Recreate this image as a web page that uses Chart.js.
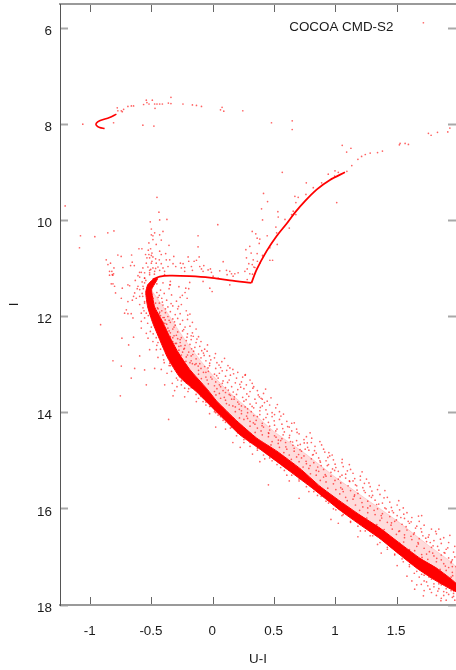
<!DOCTYPE html>
<html>
<head>
<meta charset="utf-8">
<title>COCOA CMD-S2</title>
<script src="https://cdn.jsdelivr.net/npm/chart.js@4"></script>
<style>
  body { margin: 0; background: #fff; overflow: hidden; }
  canvas { display: block; }
</style>
</head>
<body>
<canvas id="myChart" width="456" height="670"></canvas>
<script>
// axis ticks and labels
const uTicks = [-1, -0.5, 0, 0.5, 1, 1.5];
const iTicks = [6, 8, 10, 12, 14, 16, 18];
const plotLabel = 'COCOA CMD-S2';

// dense main sequence, outline [U-I, I]
const bandOutline = [
  [-.494,11.23],[-.535,11.34],[-.551,11.5],[-.535,11.8],[-.494,12.13],[-.437,12.48],[-.372,12.86],[-.274,13.26],
  [-.135,13.57],[.053,14.05],[.217,14.46],[.404,14.8],[.625,15.22],[.813,15.58],[1.034,16.03],[1.197,16.33],
  [1.36,16.62],[1.524,16.96],[1.663,17.24],[1.793,17.46],[1.98,17.72],
  [1.98,17.55],[1.826,17.24],[1.687,17.03],[1.524,16.72],[1.36,16.4],[1.197,16.13],[1.034,15.84],[.87,15.53],
  [.707,15.16],[.519,14.8],[.355,14.53],[.192,14.17],[.029,13.76],[-.053,13.5],[-.192,13.1],[-.29,12.73],
  [-.355,12.42],[-.421,12.07],[-.478,11.8],[-.502,11.44],[-.453,11.21],[-.494,11.23]
];

// lighter zone just above the band
const haloOutline = [
  [-.49,11.5],[-.38,11.9],[-.28,12.3],[-.17,12.7],[-.03,13.15],[.12,13.55],[.3,13.95],[.5,14.4],[.75,14.85],
  [1,15.35],[1.25,15.8],[1.5,16.25],[1.75,16.75],[1.98,17.2],[1.98,17.6],[1.6,17],[1.2,16.2],[.8,15.5],[.4,14.8],
  [.1,14.1],[-.2,13.2],[-.4,12.4],[-.5,11.8],[-.49,11.5]
];

// subgiant branch ridge
const subgiantRidge = [
  [-.494,11.23],[-.437,11.17],[-.355,11.15],[-.192,11.16],[-.029,11.19],[.135,11.25],[.312,11.3]
];

// giant branch ridge
const giantRidge = [
  [.312,11.3],[.353,11.03],[.435,10.64],[.516,10.33],[.598,10.07],[.666,9.84],[.748,9.6],[.843,9.36],[.952,9.16],[1.074,9]
];

// bright hook near I = 8
const hookRidge = [
  [-.886,8.09],[-.927,8.07],[-.954,8.02],[-.954,7.98],[-.927,7.93],[-.846,7.86],[-.79,7.79]
];

// single stars, upper part of the diagram
const brightStars = [
  [-1.064,8],[-.813,7.97],[-.783,7.66],[-.778,7.72],[-.75,7.72],[-.742,7.74],[-.731,7.69],[-.696,7.63],[-.668,7.62],[-.65,7.62],
  [-.568,7.59],[-.546,7.5],[-.541,7.55],[-.524,7.58],[-.497,7.5],[-.478,7.58],[-.459,7.58],[-.437,7.58],[-.415,7.58],[-.366,7.56],
  [-.345,7.44],[-.345,7.57],[-.247,7.58],[-.17,7.6],[-.137,7.61],[-.096,7.63],[.072,7.65],[.059,7.7],[.086,7.73],[.241,7.72],
  [-.475,7.67],[-.574,8.02],[-.484,8.04],[.475,7.97],[.644,7.93],[.644,8.11],[1.052,8.44],[1.123,8.5],[1.524,8.4],[1.518,8.43],
  [1.565,8.4],[1.592,8.42],[1.714,5.89],[1.755,8.19],[1.777,8.23],[1.829,8.17],[1.913,8.16],[1.93,8.08],
  [1.09,8.98],[1.13,8.86],[1.18,8.73],[1.21,8.67],[1.24,8.63],[1.28,8.6],[1.34,8.59],[1.38,8.56],[1.088,8.58],[1.02,9],[.99,9.08]
];

// stars around the giant and subgiant branch
const branchStars = [
  [.563,9],[.759,9.22],[.41,9.44],[.443,9.61],[1.007,9.63],[.394,9.76],[.037,10.09],[.402,9.99],[.527,9.82],[.53,9.93],
  [.666,9.5],[.693,9.52],[.674,9.63],[.62,10.16],[.318,10.23],[.347,10.28],[.358,10.37],[.38,10.39],[.375,10.48],[.44,10.32],
  [.511,10.14],[.522,10.5],[.298,10.54],[.266,10.61],[.309,10.68],[.271,10.78],[.358,10.69],[.402,10.73],[.462,10.83],[.484,10.83],
  [.326,10.82],[.29,10.9],[.318,10.92],[.331,10.97],[.277,11.01],[.258,11.06],[.298,11.11],[.277,11.23],[-.124,10.32],[-.124,10.55],
  [-.115,10.76],[-.156,10.85],[-.137,10.83],[-.205,10.76],[-.2,10.85],[-.268,10.89],[-.246,10.9],[-.355,10.82],[-.322,10.75],[-.328,10.9],
  [-.306,10.96],[-.26,10.99],[-.233,10.98],[-.233,11.06],[-.178,10.96],[-.17,11.04],[-.11,10.96],[-.096,11.01],[-.077,10.94],[-.083,11.06],
  [-.042,11.03],[-.023,11.01],[-.015,11.08],[.053,11.05],[.081,10.86],[.108,11.04],[.135,11.06],[.149,11.11],[.113,11.13],[.176,11.11],
  [.203,11.09],[.162,11.16],[.04,11.2],[-.001,11.16],[-.192,11.29],[-.083,11.27],[-.028,11.41],[-.009,11.48],[-.224,11.41],[-.252,11.56],
  [-.213,11.62],[.135,11.34],[-.355,11.34],[-.35,11.27],[.38,10.89],[.407,10.75],[.462,10.57],[.517,10.26],[.585,9.98],[.652,9.81],
  [.674,9.88],[.639,9.88],[.938,9.04],[.993,8.97],[.884,9.22],[.816,9.32],[.756,9.46],[.32,11.12],[.34,10.98],[.36,10.85]
];

// stars bluer than the turnoff
const blueStars = [
  [-.459,9.52],[-.443,9.83],[-1.208,9.7],[-.514,10.03],[-.437,9.99],[-.378,9.98],[-.505,10.18],[-.81,10.22],[-.86,10.26],[-1.083,10.32],
  [-.966,10.34],[-1.091,10.57],[-.41,10.23],[-.478,10.26],[-.505,10.3],[-.437,10.3],[-.492,10.32],[-.525,10.47],[-.492,10.4],[-.424,10.41],
  [-.606,10.59],[-.582,10.59],[-.511,10.59],[-.465,10.5],[-.437,10.64],[-.361,10.52],[-.778,10.72],[-.751,10.75],[-.666,10.72],[-.873,10.82],
  [-.838,10.89],[-.859,10.92],[-.737,10.98],[-.661,10.87],[-.674,10.94],[-.644,10.94],[-.81,10.99],[-.827,11.06],[-.846,11.14],[-.819,11.14],
  [-.552,10.71],[-.525,10.71],[-.505,10.73],[-.541,10.78],[-.519,10.78],[-.492,10.76],[-.424,10.71],[-.388,10.69],[-.546,10.89],[-.505,10.89],
  [-.465,10.89],[-.424,10.9],[-.383,10.82],[-.574,10.99],[-.533,10.97],[-.492,10.99],[-.451,10.97],[-.41,10.99],[-.369,10.96],[-.601,11.08],
  [-.56,11.09],[-.519,11.04],[-.478,11.06],[-.437,11.04],[-.397,11.06],[-.614,11.15],[-.56,11.2],[-.519,11.13],[-.397,11.13],[-.824,11.13],
  [-.846,11.06],[-.813,11.11],[-.818,11.32],[-.832,11.32],[-.805,11.37],[-.797,11.51],[-.742,11.41],[-.696,11.34],[-.682,11.36],[-.636,11.25],
  [-.6,11.18],[-.56,11.2],[-.587,11.08],[-.519,11.09],[-.75,11.62],[-.696,11.69],[-.66,11.66],[-.628,11.62],[-.6,11.58],[-.641,11.51],
  [-.6,11.44],[-.573,11.37],[-.56,11.3],[-.614,11.37],[-.709,11.86],[-.723,11.93],[-.696,11.94],[-.669,11.94],[-.655,12.03],[-.587,12.1],
  [-.56,12.03],[-.546,11.93],[-.573,11.82],[-.6,11.75],[-.56,11.69],[-.587,11.93],[-.919,12.17],[-.745,12.45],[-.65,12.43],[-.69,12.59],
  [-.587,12.24],[-.546,12.35],[-.513,12.31],[-.532,12.45],[-.492,12.52],[-.451,12.54],[-.6,12.82],[-.818,12.92],[-.519,12.69],[-.464,12.69],
  [-.451,12.85],[-.75,13.03],[-.641,13.08],[-.478,13.08],[-.56,13.11],[-.424,13.1],[-.355,12.97],[-.404,12.9],[-.377,13.18],[-.669,13.28],
  [-.546,13.42],[-.396,13.42],[-.334,13.39],[-.296,13.46],[-.26,13.42],[-.233,13.49],[-.315,13.54],[-.206,13.56],[-.758,13.65],[-.328,13.65],
  [-.233,13.67],[-.138,13.77],[-.083,13.77],[-.029,13.87],[.012,13.94],[.039,14.05],[-.364,14.14],[-.51,11.02],[-.47,11],[-.55,11.25],
  [-.5,10.85],[-.47,10.8],[-.44,10.82],[-.5,10.68],[-.53,10.62],[-.48,11.12],[-.58,11.28],[-.62,11.42],[-.65,11.58],[-.58,11.52]
];

// redder cloud above the band, upper half
const cloudUpper = [
  [-.46,11.32],[-.41,11.3],[-.35,11.34],[-.28,11.38],[-.2,11.42],[-.23,11.5],[-.36,11.42],[-.43,11.45],[-.46,11.5],[-.4,11.52],
  [-.34,11.55],[-.27,11.6],[-.45,11.6],[-.42,11.62],[-.38,11.66],[-.3,11.68],[-.26,11.75],[-.44,11.72],[-.41,11.76],[-.37,11.8],
  [-.33,11.78],[-.29,11.84],[-.22,11.88],[-.19,11.95],[-.45,11.84],[-.42,11.88],[-.39,11.92],[-.35,11.9],[-.31,11.96],[-.27,11.94],
  [-.43,11.98],[-.4,12.02],[-.37,12],[-.33,12.05],[-.29,12.04],[-.25,12.08],[-.21,12.06],[-.17,12.12],[-.41,12.12],[-.38,12.16],
  [-.35,12.12],[-.31,12.18],[-.27,12.16],[-.23,12.22],[-.19,12.2],[-.14,12.26],[-.39,12.25],[-.36,12.3],[-.33,12.26],[-.29,12.32],
  [-.25,12.3],[-.21,12.36],[-.17,12.34],[-.12,12.42],[-.35,12.42],[-.32,12.4],[-.29,12.46],[-.26,12.44],[-.22,12.5],[-.18,12.48],
  [-.14,12.54],[-.1,12.52],[-.33,12.52],[-.3,12.56],[-.27,12.54],[-.23,12.6],[-.19,12.58],[-.15,12.64],[-.11,12.62],[-.07,12.68],
  [-.31,12.66],[-.28,12.7],[-.24,12.68],[-.2,12.74],[-.16,12.72],[-.12,12.78],[-.08,12.76],[-.03,12.82],[.01,12.86],[-.26,12.8],
  [-.22,12.84],[-.18,12.82],[-.14,12.88],[-.1,12.86],[-.06,12.92],[-.02,12.9],[.03,12.96],[.07,12.94],[-.19,12.96],[-.15,13],
  [-.11,12.98],[-.07,13.04],[-.03,13.02],[.02,13.08],[.06,13.06],[.11,13.12],[.16,13.1],[.2,13.16],[-.12,13.12],[-.08,13.16],
  [-.04,13.14],[.01,13.2],[.05,13.18],[.1,13.24],[.14,13.22],[.19,13.28],[.24,13.26],[.3,13.32],[-.06,13.26],[-.01,13.3],
  [.04,13.28],[.08,13.34],[.13,13.32],[.18,13.38],[.23,13.36],[.27,13.42],[.33,13.46],[-.04,13.4],[.01,13.44],[.05,13.42],
  [.1,13.48],[.15,13.46],[.2,13.52],[.25,13.5],[.3,13.56],[.36,13.54],[.41,13.6],[.01,13.56],[.05,13.6],[.1,13.58],
  [.14,13.64],[.19,13.62],[.24,13.68],[.29,13.66],[.34,13.72],[.39,13.7],[.44,13.76],[.06,13.7],[.1,13.74],[.15,13.72],
  [.2,13.78],[.25,13.76],[.3,13.82],[.35,13.8],[.4,13.86],[.46,13.84],[.51,13.9],[.13,13.84],[.18,13.88],[.23,13.86],
  [.28,13.92],[.33,13.9],[.38,13.96],[.43,13.94],[.48,14],[.54,13.98],[.18,13.98],[.23,14.02],[.28,14],[.33,14.06],
  [.38,14.04],[.43,14.1],[.48,14.08],[.54,14.14],[.6,14.18],[.25,14.14],[.3,14.18],[.35,14.16],[.4,14.22],[.45,14.2],
  [.5,14.26],[.56,14.24],[.62,14.3],[.68,14.34],[.3,14.28],[.36,14.32],[.41,14.3],[.46,14.36],[.52,14.34],[.58,14.4],
  [.64,14.38],[.7,14.44],[.76,14.5]
];

// redder cloud above the band, lower half
const cloudLower = [
  [.4,14.46],[.45,14.5],[.5,14.48],[.56,14.54],[.62,14.52],[.68,14.58],[.74,14.56],[.8,14.62],[.87,14.6],[.48,14.6],
  [.53,14.64],[.59,14.62],[.65,14.68],[.71,14.66],[.77,14.72],[.83,14.7],[.9,14.76],[.54,14.72],[.6,14.76],[.66,14.74],
  [.72,14.8],[.78,14.78],[.84,14.84],[.91,14.82],[.97,14.88],[.62,14.88],[.68,14.92],[.74,14.9],[.8,14.96],[.86,14.94],
  [.92,15],[.98,14.98],[1.05,15.04],[.7,15.02],[.76,15.06],[.82,15.04],[.88,15.1],[.94,15.08],[1,15.14],[1.06,15.12],
  [1.12,15.18],[.78,15.16],[.84,15.2],[.9,15.18],[.96,15.24],[1.02,15.22],[1.08,15.28],[1.14,15.26],[1.2,15.32],[.84,15.3],
  [.9,15.34],[.96,15.32],[1.02,15.38],[1.08,15.36],[1.14,15.42],[1.2,15.4],[1.27,15.46],[.92,15.44],[.98,15.48],[1.04,15.46],
  [1.1,15.52],[1.16,15.5],[1.22,15.56],[1.28,15.54],[1.34,15.6],[1,15.6],[1.06,15.64],[1.12,15.62],[1.18,15.68],[1.24,15.66],
  [1.3,15.72],[1.36,15.7],[1.42,15.76],[1.08,15.76],[1.14,15.8],[1.2,15.78],[1.26,15.84],[1.32,15.82],[1.38,15.88],[1.44,15.86],
  [1.5,15.92],[1.16,15.92],[1.22,15.96],[1.28,15.94],[1.34,16],[1.4,15.98],[1.46,16.04],[1.52,16.02],[1.58,16.08],[1.26,16.08],
  [1.32,16.12],[1.38,16.1],[1.44,16.16],[1.5,16.14],[1.56,16.2],[1.62,16.18],[1.68,16.26],[1.36,16.24],[1.42,16.28],[1.48,16.26],
  [1.54,16.32],[1.6,16.3],[1.66,16.36],[1.72,16.34],[1.78,16.42],[1.46,16.42],[1.52,16.46],[1.58,16.44],[1.64,16.5],[1.7,16.48],
  [1.76,16.54],[1.82,16.52],[1.88,16.6],[1.56,16.6],[1.62,16.64],[1.68,16.62],[1.74,16.68],[1.8,16.66],[1.86,16.72],[1.92,16.7],
  [1.97,16.78],[1.66,16.78],[1.72,16.82],[1.78,16.8],[1.84,16.86],[1.9,16.84],[1.96,16.9],[1.74,16.94],[1.8,16.98],[1.86,16.96],
  [1.92,17.02],[1.97,17],[1.82,17.1],[1.88,17.14],[1.94,17.12],[1.98,17.2],[1.9,17.28],[1.95,17.32],[1.75,17.05],[1.7,16.95],
  [1.6,16.85],[1.52,16.72],[1.44,16.6],[1.35,16.48],[1.27,16.3],[1.2,16.2],[1.1,16.02],[1,15.86],[.9,15.66],[.8,15.5]
];

// stars below the band, and the wide red end of it
const lowerStars = [
  [-.36,13.02],[-.29,13.32],[-.2,13.5],[-.12,13.7],[-.06,13.84],[.01,13.98],[.08,14.16],[-.03,14.02],[.14,14.32],[.19,14.48],
  [.1,14.34],[.02,14.3],[.16,14.62],[.25,14.62],[.3,14.7],[.36,14.78],[.22,14.72],[.32,14.86],[.42,14.96],[.48,15],[.38,15.02],
  [.55,15.14],[.6,15.3],[.62,15.42],[.45,15.5],[.7,15.42],[.78,15.64],[.7,15.78],[.85,15.72],[.92,15.84],[.98,16],[.96,16.22],
  [1.05,16.14],[1.12,16.28],[1.02,16.3],[1.2,16.46],[1.28,16.56],[1.18,16.58],[1.34,16.74],[1.42,16.8],[1.48,16.94],[1.37,16.92],
  [1.55,17.1],[1.6,17.2],[1.5,17.18],[1.64,17.34],[1.58,17.4],[1.68,17.42],[1.72,17.5],[1.66,17.58],[1.75,17.6],[1.8,17.62],
  [1.72,17.7],[1.84,17.66],[1.78,17.74],[1.88,17.72],[1.82,17.8],[1.92,17.78],[1.86,17.86],[1.95,17.84],[1.9,17.9],[1.97,17.9],
  [1.7,17.36],[1.76,17.42],[1.82,17.4],[1.88,17.44],[1.94,17.42],[1.74,17.52],[1.8,17.56],[1.86,17.58],[1.92,17.62],[1.97,17.66],
  [1.9,17.52],[1.96,17.56],[1.84,17.5],[1.78,17.3],[1.85,17.26],[1.92,17.22],[1.96,17.82],[1.94,17.7],[1.88,17.8],[1.62,17.5]
];

// fringe hugging both edges of the band
const bandFringe = [
  [-.57,11.42],[-.575,11.58],[-.56,11.72],[-.565,11.88],[-.53,11.98],[-.535,12.14],[-.505,12.22],[-.49,12.36],[-.465,12.44],[-.46,12.6],
  [-.43,12.68],[-.41,12.8],[-.4,12.96],[-.35,13.02],[-.34,13.14],[-.3,13.28],[-.26,13.34],[-.22,13.38],[-.18,13.48],[-.14,13.62],
  [-.1,13.66],[-.06,13.78],[-.02,13.86],[.02,14],[.06,14.08],[.1,14.2],[.15,14.3],[.2,14.42],[.25,14.56],[.3,14.62],
  [.36,14.74],[.41,14.88],[.46,14.94],[.52,15.08],[.58,15.2],[.64,15.3],[.7,15.38],[.76,15.54],[.82,15.64],[.88,15.74],
  [.94,15.88],[1,16.02],[1.06,16.12],[1.12,16.26],[1.18,16.36],[1.24,16.46],[1.3,16.56],[1.36,16.7],[1.42,16.84],[1.48,16.96],
  [1.54,17.04],[1.6,17.16],[1.66,17.3],[1.72,17.38],[1.78,17.46],[1.84,17.56],[1.9,17.66],[1.96,17.76],
  [-.49,11.62],[-.47,11.72],[-.455,11.82],[-.44,11.94],[-.41,12.02],[-.395,12.14],[-.37,12.24],[-.35,12.34],[-.33,12.44],[-.31,12.56],
  [-.28,12.62],[-.25,12.74],[-.21,12.8],[-.18,12.92],[-.14,12.98],[-.1,13.08],[-.06,13.16],[-.02,13.26],[.02,13.36],[.06,13.46],
  [.08,13.54],[.13,13.62],[.17,13.72],[.21,13.82],[.26,13.88],[.31,13.98],[.36,14.08],[.41,14.14],[.46,14.28],[.51,14.38],
  [.57,14.46],[.63,14.6],[.69,14.68],[.75,14.76],[.81,14.88],[.87,15],[.93,15.1],[.99,15.2],[1.05,15.3],[1.11,15.42],
  [1.17,15.52],[1.23,15.62],[1.29,15.76],[1.35,15.9],[1.41,16],[1.47,16.08],[1.53,16.18],[1.59,16.26],[1.65,16.4],[1.71,16.56],
  [1.77,16.7],[1.83,16.78],[1.89,16.92],[1.95,17.06],
  [-.44,11.56],[-.415,11.7],[-.39,11.84],[-.36,12.08],[-.32,12.22],[-.27,12.48],[-.235,12.66],[-.17,12.98],[-.12,13.2],[-.05,13.32],
  [.03,13.5],[.09,13.68],[.16,13.86],[.23,13.96],[.28,14.12],[.34,14.24],[.39,14.38],[.45,14.42],[.55,14.58],[.66,14.8],
  [.72,14.94],[.79,15.1],[.86,15.22],[.92,15.32],[1.04,15.56],[1.15,15.74],[1.26,15.98],[1.37,16.14],[1.45,16.34],[1.56,16.54],
  [1.67,16.7],[1.79,16.92],[1.86,17.06],[1.95,17.2],[-.18,12.4],[-.05,12.72],[.12,13.02],[.26,13.22],[.4,13.72],[.5,14.04],
  [.64,14.22],[.79,14.42],[.95,14.9],[1.11,15.08],[1.25,15.38],[1.4,15.62],[1.55,15.98],[1.7,16.14],[1.84,16.42],[1.93,16.55]
];

// more of the cloud, filling the gaps left above
const cloudExtra = [
  [-.437,11.91],[-.392,12.07],[-.344,11.73],[-.316,12.11],[-.283,11.79],[-.241,12.27],[-.208,11.97],[-.163,12.41],[-.372,12.37],[-.301,12.39],
  [-.264,12.61],[-.214,12.43],[-.176,12.67],[-.133,12.47],[-.094,12.71],[-.047,12.59],[-.223,12.93],[-.167,12.79],[-.123,13.03],[-.074,12.81],
  [-.029,12.97],[.018,12.77],[.047,13.01],[.092,12.87],[.136,13.07],[-.097,13.29],[-.043,13.07],[.028,13.23],[.073,13.13],[.117,13.37],
  [.166,13.19],[.217,13.41],[.262,13.21],[.318,13.39],[.022,13.63],[.074,13.39],[.123,13.53],[.172,13.67],[.224,13.47],[.274,13.61],
  [.323,13.49],[.376,13.67],[.427,13.51],[.108,13.81],[.163,13.57],[.213,13.93],[.268,13.73],[.317,13.87],[.367,13.63],[.418,13.79],
  [.471,13.69],[.523,13.83],[.573,14.03],[.214,14.11],[.272,14.07],[.327,14.21],[.384,13.89],[.442,14.03],[.497,14.17],[.552,14.07],
  [.607,14.29],[.661,14.21],[.342,14.41],[.398,14.27],[.453,14.43],[.512,14.51],[.567,14.33],[.623,14.47],[.684,14.41],[.742,14.63],
  [.803,14.53],[.471,14.67],[.531,14.57],[.592,14.71],[.647,14.61],[.708,14.77],[.767,14.63],[.826,14.79],[.884,14.67],[.943,14.83],
  [.576,14.83],[.637,14.97],[.696,14.87],[.757,15.01],[.816,14.87],[.874,15.03],[.935,14.93],[.994,15.07],[1.052,14.97],[.733,15.13],
  [.793,15.27],[.852,15.13],[.913,15.29],[.973,15.17],[1.034,15.33],[1.094,15.21],[1.154,15.37],[1.214,15.23],[.873,15.41],[.934,15.57],
  [.993,15.41],[1.053,15.59],[1.113,15.43],[1.173,15.61],[1.233,15.47],[1.294,15.63],[1.353,15.51],[1.032,15.69],[1.093,15.83],[1.153,15.71],
  [1.213,15.87],[1.273,15.73],[1.333,15.91],[1.393,15.77],[1.453,15.97],[1.513,15.83],[1.194,16.03],[1.252,16.19],[1.312,16.03],[1.374,16.19],
  [1.434,16.07],[1.494,16.23],[1.554,16.11],[1.614,16.27],[1.674,16.15],[1.334,16.33],[1.394,16.43],[1.454,16.29],[1.513,16.47],[1.573,16.37],
  [1.634,16.53],[1.694,16.41],[1.754,16.59],[1.814,16.47],[1.494,16.53],[1.553,16.69],[1.613,16.57],[1.673,16.73],[1.733,16.61],[1.793,16.77],
  [1.853,16.63],[1.913,16.81],[1.643,16.87],[1.703,17.01],[1.763,16.89],[1.823,17.03],[1.883,16.91],[1.943,17.09],[1.773,17.17],[1.833,17.33],
  [1.893,17.19],[1.953,17.39],[1.697,17.57],[1.767,17.67],[1.832,17.71],[1.904,17.74],[1.962,17.71],[1.643,17.67],[1.714,17.81],[1.857,17.91]
];

const RED = 'rgb(255,0,0)';
const toPoints = (list) => list.map(([u, i]) => ({ x: u, y: i }));

const starSet = (list) => ({
  data: toPoints(list),
  showLine: false,
  pointRadius: 0.85,
  pointBorderWidth: 0,
  pointBackgroundColor: 'rgba(255,0,0,0.62)',
});

const ridge = (list, width) => ({
  data: toPoints(list),
  showLine: true,
  borderColor: RED,
  borderWidth: width,
  pointRadius: 0,
  tension: 0.3,
});

const shape = (list, color) => ({
  data: toPoints(list),
  showLine: true,
  fill: 'shape',
  borderColor: color,
  backgroundColor: color,
  borderWidth: 1,
  pointRadius: 0,
  tension: 0.15,
  _closed: true,
});

const datasets = [
  shape(bandOutline, RED),
  shape(haloOutline, 'rgba(255,0,0,0.14)'),
  ridge(subgiantRidge, 1.8),
  ridge(giantRidge, 1.8),
  ridge(hookRidge, 1.6),
  starSet(brightStars),
  starSet(branchStars),
  starSet(blueStars),
  starSet(cloudUpper),
  starSet(cloudLower),
  starSet(lowerStars),
  starSet(bandFringe),
  starSet(cloudExtra),
];

// fill 'shape' needs the line to be treated as a closed loop
const closeShapes = {
  id: 'closeShapes',
  afterDatasetsUpdate(chart) {
    chart.data.datasets.forEach((ds, index) => {
      if (ds._closed) chart.getDatasetMeta(index).dataset._loop = true;
    });
  }
};

// label inside the plot, placed through the scales
const cornerLabel = {
  id: 'cornerLabel',
  afterDraw(chart) {
    const { ctx, scales: { x, y } } = chart;
    ctx.save();
    ctx.font = '13.4px "Liberation Sans"';
    ctx.fillStyle = '#1a1a1a';
    ctx.textAlign = 'left';
    ctx.textBaseline = 'middle';
    ctx.fillText(plotLabel, x.getPixelForValue(0.62), y.getPixelForValue(5.98));
    ctx.restore();
  }
};

const vGrid = { drawOnChartArea: false, drawTicks: true, tickLength: -8, tickColor: '#666', tickWidth: 1 };
const hGrid = { drawOnChartArea: false, drawTicks: true, tickLength: -8, tickColor: '#a8a8a8', tickWidth: 2 };
const labelFont = { family: '"Liberation Sans"', size: 13.4 };

new Chart(document.getElementById('myChart'), {
  type: 'scatter',
  data: { datasets },
  plugins: [closeShapes, cornerLabel],
  options: {
    responsive: false,
    animation: false,
    devicePixelRatio: 1,
    layout: { autoPadding: false, padding: { top: 4, left: 0, right: 0, bottom: 0 } },
    plugins: { legend: { display: false }, tooltip: { enabled: false } },
    scales: {
      x: {
        type: 'linear', position: 'bottom', min: -1.25, max: 1.98,
        afterBuildTicks: (s) => { s.ticks = uTicks.map((value) => ({ value })); },
        afterFit: (s) => { s.height = 65; s.paddingLeft = 0; s.paddingRight = 0; },
        grid: vGrid,
        border: { color: '#9a9a9a', width: 2 },
        ticks: { font: labelFont, color: '#1a1a1a', padding: 26, maxRotation: 0, labelOffset: -1, callback: (v) => String(v) },
        title: { display: true, text: 'U-I', font: labelFont, color: '#1a1a1a', padding: { top: 0, bottom: 3 } },
      },
      x2: {
        type: 'linear', position: 'top', min: -1.25, max: 1.98,
        afterBuildTicks: (s) => { s.ticks = uTicks.map((value) => ({ value })); },
        afterFit: (s) => { s.height = 0; },
        grid: vGrid,
        border: { color: '#9a9a9a', width: 2 },
        ticks: { display: false },
      },
      y: {
        type: 'linear', position: 'left', min: 5.5, max: 18, reverse: true,
        afterBuildTicks: (s) => { s.ticks = iTicks.map((value) => ({ value })); },
        afterFit: (s) => { s.width = 60; s.paddingTop = 0; s.paddingBottom = 0; },
        grid: hGrid,
        border: { color: '#555', width: 1 },
        ticks: { font: labelFont, color: '#1a1a1a', padding: 16, labelOffset: 3, callback: (v) => String(v) },
        title: { display: true, text: 'I', font: labelFont, color: '#1a1a1a', padding: { top: 6, bottom: 0 } },
      },
      y2: {
        type: 'linear', position: 'right', min: 5.5, max: 18, reverse: true,
        afterBuildTicks: (s) => { s.ticks = iTicks.map((value) => ({ value })); },
        afterFit: (s) => { s.width = 0; s.paddingTop = 0; s.paddingBottom = 0; },
        grid: hGrid,
        border: { display: false },
        ticks: { display: false },
      },
    },
  },
});
</script>
</body>
</html>
